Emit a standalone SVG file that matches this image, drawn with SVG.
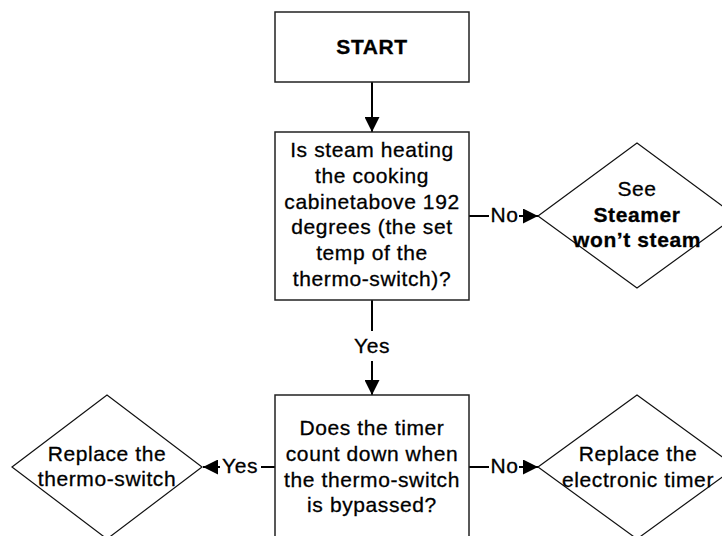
<svg xmlns="http://www.w3.org/2000/svg" width="722" height="536" viewBox="0 0 722 536">
<style>
  .box { fill: #ffffff; stroke: #222222; stroke-width: 1.5; }
  .dia { fill: #ffffff; stroke: #111111; stroke-width: 1.2; }
  .t { font-family: "Liberation Sans", Arial, Helvetica, sans-serif; font-size: 21px; letter-spacing: 0.6px; fill: #000000; stroke: #000000; stroke-width: 0.3; text-anchor: middle; }
  .b { font-weight: bold; }
  .conn { fill: none; stroke: #000000; stroke-width: 2; }
</style>
<defs>
  <marker id="arrow" markerUnits="userSpaceOnUse" markerWidth="16" markerHeight="15" refX="15" refY="7.5" orient="auto">
    <path d="M0,0 L15,7.5 L0,15 z" fill="#000000"/>
  </marker>
</defs>
<rect width="722" height="536" fill="#ffffff"/>

<g id="connectors">
  <path class="conn" d="M372,82 V132" marker-end="url(#arrow)"/>
  <path class="conn" d="M469,216 H489"/>
  <text class="t" x="504.5" y="222">No</text>
  <path class="conn" d="M519,216 H538" marker-end="url(#arrow)"/>
  <path class="conn" d="M372,300 V331"/>
  <text class="t" x="372" y="353">Yes</text>
  <path class="conn" d="M372,361 V395" marker-end="url(#arrow)"/>
  <path class="conn" d="M275,467 H261"/>
  <text class="t" x="240" y="473">Yes</text>
  <path class="conn" d="M220,467 H203" marker-end="url(#arrow)"/>
  <path class="conn" d="M469,467 H489"/>
  <text class="t" x="504.5" y="473">No</text>
  <path class="conn" d="M519,467 H538" marker-end="url(#arrow)"/>
</g>

<g id="start">
  <rect class="box" x="275" y="12" width="194" height="70"/>
  <text class="t b" x="372" y="54">START</text>
</g>

<g id="q-steam">
  <rect class="box" x="275" y="132" width="194" height="168"/>
  <text class="t" x="372" y="157">Is steam heating</text>
  <text class="t" x="372" y="182.8">the cooking</text>
  <text class="t" x="372" y="208.6">cabinetabove 192</text>
  <text class="t" x="372" y="234.4">degrees (the set</text>
  <text class="t" x="372" y="260.2">temp of the</text>
  <text class="t" x="372" y="286">thermo-switch)?</text>
</g>

<g id="see-steamer">
  <polygon class="dia" points="538,216 637,143 736,216 637,288"/>
  <text class="t" x="637" y="196">See</text>
  <text class="t b" x="637" y="222">Steamer</text>
  <text class="t b" x="637" y="247">won’t steam</text>
</g>

<g id="q-timer">
  <rect class="box" x="275" y="395" width="194" height="144"/>
  <text class="t" x="372" y="435">Does the timer</text>
  <text class="t" x="372" y="461">count down when</text>
  <text class="t" x="372" y="487">the thermo-switch</text>
  <text class="t" x="372" y="512">is bypassed?</text>
</g>

<g id="replace-thermo">
  <polygon class="dia" points="12,467 107,395 202,467 107,539"/>
  <text class="t" x="107" y="461">Replace the</text>
  <text class="t" x="107" y="486">thermo-switch</text>
</g>

<g id="replace-timer">
  <polygon class="dia" points="538,467 637,395 736,467 637,539"/>
  <text class="t" x="638" y="461">Replace the</text>
  <text class="t" x="638" y="487">electronic timer</text>
</g>
</svg>
